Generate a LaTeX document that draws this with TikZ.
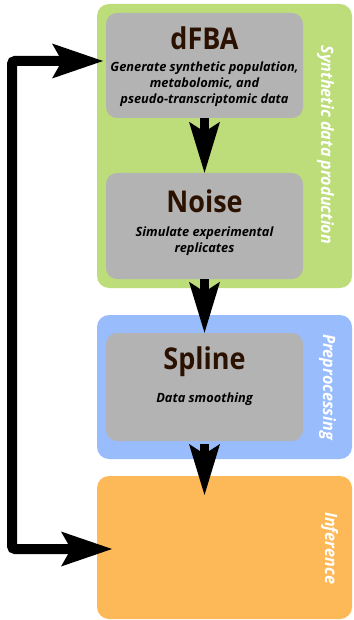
\documentclass[tikz,border=0pt]{standalone}
\usepackage{fontspec}
\setmainfont{Open Sans}
\newfontfamily\titlefont{Open Sans}[FakeStretch=0.9]
\newfontfamily\sidefont{Open Sans}[FakeStretch=0.95]
\usetikzlibrary{arrows.meta}
\definecolor{grpgreen}{RGB}{188,221,122}
\definecolor{grpblue}{RGB}{153,188,253}
\definecolor{grporange}{RGB}{253,185,88}
\definecolor{stepgray}{RGB}{179,179,179}
\definecolor{titlebrown}{RGB}{43,17,0}
\tikzset{
  grp/.style={rounded corners=12pt, inner sep=0pt},
  stepbox/.style={fill=stepgray, rounded corners=11pt, inner sep=0pt, minimum width=197pt},
  titletext/.style={anchor=base, inner sep=0pt, text=titlebrown, font={\titlefont\bfseries\fontsize{30}{30}\selectfont}},
  desctext/.style={anchor=north, inner sep=0pt, align=center, font={\bfseries\itshape\fontsize{12.8}{16}\selectfont}},
  sidetext/.style={anchor=base, inner sep=0pt, rotate=-90, text=white, font={\sidefont\bfseries\itshape\fontsize{17}{17}\selectfont}},
  varrow/.style={line width=8.5pt, -{Stealth[length=51pt, width=31pt, inset=10pt, line width=0pt]}},
  harrow/.style={line width=10pt, rounded corners=3pt, {Stealth[length=51pt, width=35pt, inset=10pt, line width=0pt]}-{Stealth[length=51pt, width=35pt, inset=10pt, line width=0pt]}}
}
\begin{document}
\begin{tikzpicture}[x=1pt, y=-1pt]
\useasboundingbox (0,0) rectangle (353,620);
% group boxes
\node[grp, fill=grpgreen, minimum width=255pt, minimum height=284pt] (syn) at (224.5,146) {};
\node[grp, fill=grpblue, minimum width=255pt, minimum height=144pt] (pre) at (224.5,387) {};
\node[grp, fill=grporange, minimum width=255pt, minimum height=143pt] (inf) at (224.5,547.5) {};
% step boxes
\node[stepbox, minimum height=105pt] (dfba) at (204.5,65.5) {};
\node[stepbox, minimum height=106pt] (noise) at (204.5,226) {};
\node[stepbox, minimum height=108pt] (spline) at (204.5,387) {};
% arrows
\coordinate (infTip) at (204.5,495);
\draw[varrow] (dfba.south) -- (noise.north);
\draw[varrow] (noise.south) -- (spline.north);
\draw[varrow] ([yshift=-3pt]spline.south) -- (infTip);
\coordinate (fbA) at (103,61);
\coordinate (fbB) at (112,549);
\coordinate (fbX) at (12,300);
\draw[harrow] (fbB) -- (fbB -| fbX) -- (fbA -| fbX) -- (fbA);
% texts
\node[titletext] (dfbaT) at (204.5,50) {dFBA};
\node[desctext] (dfbaD) at (204.5,62) {Generate synthetic population,\\metabolomic, and\\pseudo-transcriptomic data};
\node[titletext] (noiseT) at (204.5,212) {Noise};
\node[desctext] (noiseD) at (204.5,227) {Simulate experimental\\replicates};
\node[titletext] (splineT) at (204.5,369) {Spline};
\node[desctext, anchor=base] (splineD) at (204.5,402) {Data smoothing};
\node[sidetext] (synL) at (321,145) {Synthetic data production};
\node[sidetext] (preL) at (323,387) {Preprocessing};
\node[sidetext] (infL) at (325,548) {Inference};
\end{tikzpicture}
\end{document}
